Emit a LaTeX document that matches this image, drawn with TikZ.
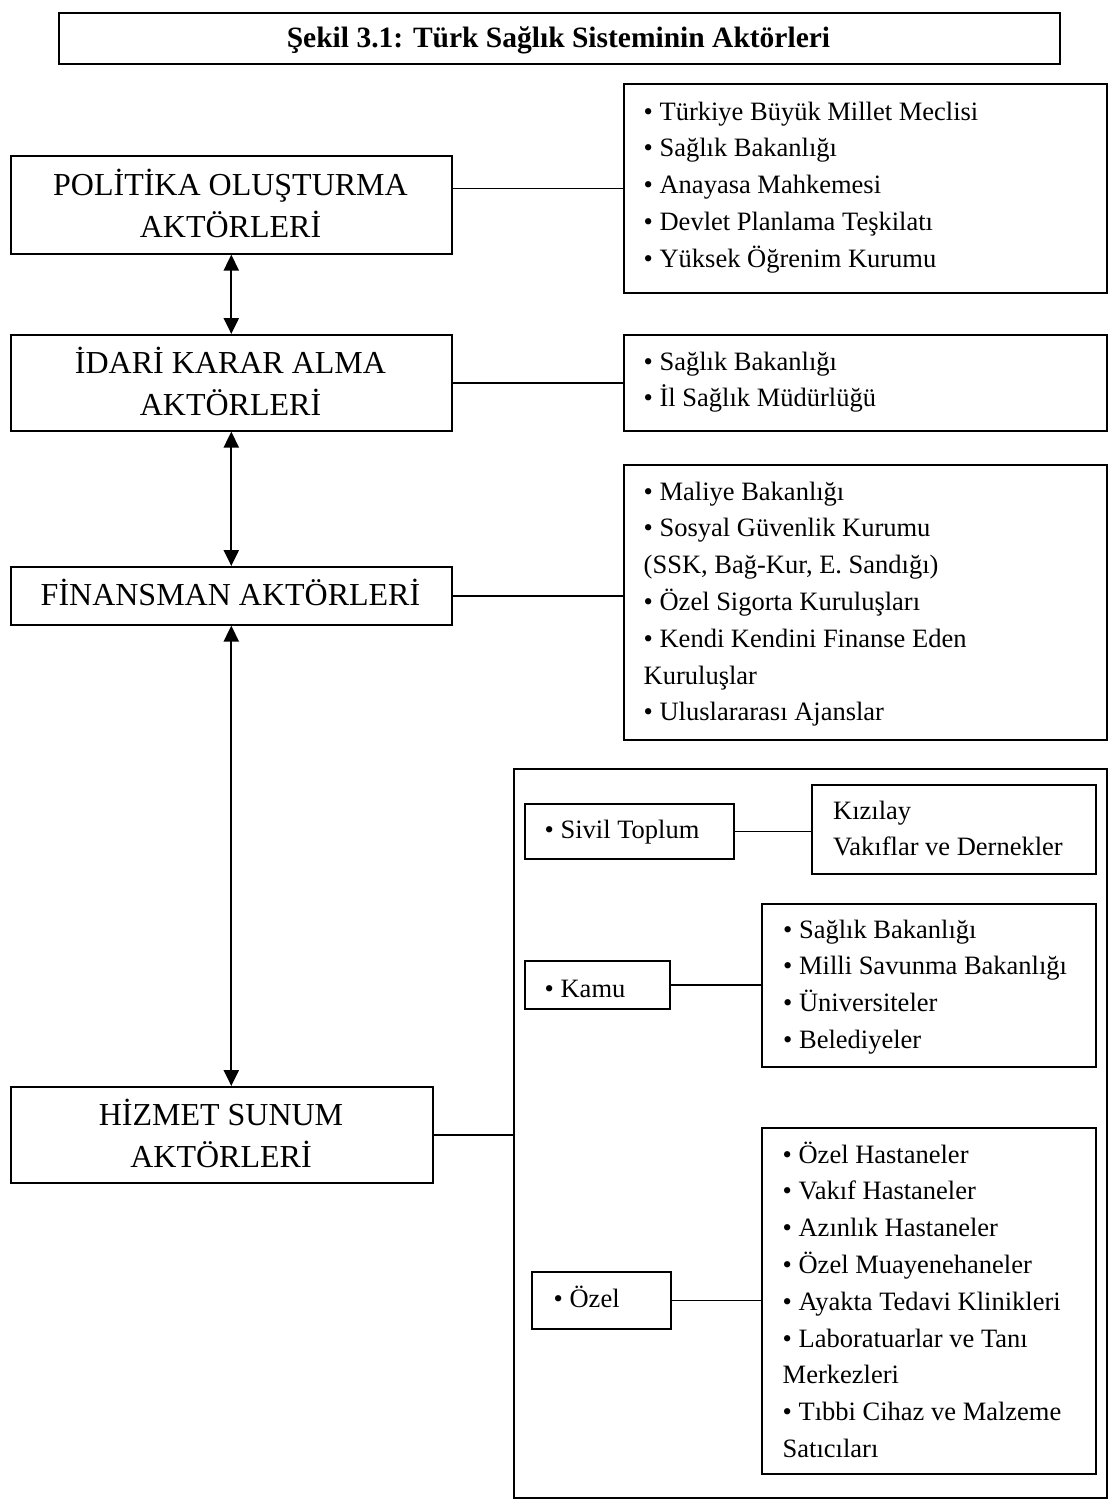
\documentclass[tikz,border=0pt]{standalone}
\usepackage{fontspec}
\setmainfont{Liberation Serif}
\usetikzlibrary{arrows.meta}
\begin{document}
\begin{tikzpicture}[x=1pt,y=-1pt,
  frame/.style={draw, line width=1.6pt, inner sep=0pt, anchor=north west},
  bigtxt/.style={font=\fontsize{32}{42}\selectfont, inner sep=0pt, align=center, anchor=north},
  listtxt/.style={font=\fontsize{26.5}{36.8}\selectfont, inner sep=0pt, align=left, anchor=north west},
  conn/.style={line width=1.6pt},
  dblarrow/.style={line width=2.2pt, {Triangle[width=15pt,length=16pt]}-{Triangle[width=15pt,length=16pt]}}]
\useasboundingbox (0,0) rectangle (1109,1499);

% title
\node[frame, line width=1.8pt, minimum width=1001pt, minimum height=51pt] (tbox) at (58,12) {};
\node[font=\fontsize{29.5}{35}\selectfont\bfseries, inner sep=0pt, anchor=base] (ttl) at (558.5,47) {Şekil 3.1: Türk Sağlık Sisteminin Aktörleri};

% actor levels (left column)
\node[frame, minimum width=441pt, minimum height=98pt] (pol) at (10,155) {};
\node[frame, minimum width=441pt, minimum height=96pt] (ida) at (10,334) {};
\node[frame, minimum width=441pt, minimum height=58pt] (fin) at (10,566) {};
\node[frame, minimum width=422pt, minimum height=96pt] (hiz) at (10,1086) {};

\node[bigtxt] (polt) at (230.5,165.6) {\strut POLİTİKA OLUŞTURMA\\\strut AKTÖRLERİ};
\node[bigtxt] (idat) at (230.5,343.6) {\strut İDARİ KARAR ALMA\\\strut AKTÖRLERİ};
\node[bigtxt] (fint) at (230.5,576.1) {\strut FİNANSMAN AKTÖRLERİ};
\node[bigtxt] (hizt) at (221,1095.6) {\strut HİZMET SUNUM\\\strut AKTÖRLERİ};

% actor lists (right column)
\node[frame, minimum width=483pt, minimum height=209pt] (polr) at (623,83) {};
\node[frame, minimum width=483pt, minimum height=96pt] (idar) at (623,334) {};
\node[frame, minimum width=483pt, minimum height=275pt] (finr) at (623,464) {};

\node[listtxt] (polrt) at (643.5,94.1) {\strut• Türkiye Büyük Millet Meclisi\\\strut• Sağlık Bakanlığı\\\strut• Anayasa Mahkemesi\\\strut• Devlet Planlama Teşkilatı\\\strut• Yüksek Öğrenim Kurumu};
\node[listtxt] (idart) at (643.5,344.1) {\strut• Sağlık Bakanlığı\\\strut• İl Sağlık Müdürlüğü};
\node[listtxt] (finrt) at (643.5,474.1) {\strut• Maliye Bakanlığı\\\strut• Sosyal Güvenlik Kurumu\\\strut(SSK, Bağ-Kur, E. Sandığı)\\\strut• Özel Sigorta Kuruluşları\\\strut• Kendi Kendini Finanse Eden\\\strut Kuruluşlar\\\strut• Uluslararası Ajanslar};

% service providers
\node[frame, line width=2pt, minimum width=593pt, minimum height=729pt] (big) at (513,768) {};

\node[frame, minimum width=209pt, minimum height=55pt] (siv) at (524,803) {};
\node[frame, minimum width=284pt, minimum height=89pt] (kiz) at (811,784) {};
\node[frame, minimum width=145pt, minimum height=48pt] (kam) at (524,960) {};
\node[frame, minimum width=334pt, minimum height=163pt] (kaml) at (761,903) {};
\node[frame, minimum width=139pt, minimum height=57pt] (oz) at (531,1271) {};
\node[frame, minimum width=334pt, minimum height=346pt] (ozl) at (761,1127) {};

\node[listtxt] (sivt) at (544.5,812.1) {\strut• Sivil Toplum};
\node[listtxt] (kizt) at (833,793.1) {\strut Kızılay\\\strut Vakıflar ve Dernekler};
\node[listtxt] (kamt) at (544.5,971.1) {\strut• Kamu};
\node[listtxt] (kamlt) at (783,912.1) {\strut• Sağlık Bakanlığı\\\strut• Milli Savunma Bakanlığı\\\strut• Üniversiteler\\\strut• Belediyeler};
\node[listtxt] (ozt) at (553.5,1281.1) {\strut• Özel};
\node[listtxt] (ozlt) at (782.5,1137.1) {\strut• Özel Hastaneler\\\strut• Vakıf Hastaneler\\\strut• Azınlık Hastaneler\\\strut• Özel Muayenehaneler\\\strut• Ayakta Tedavi Klinikleri\\\strut• Laboratuarlar ve Tanı\\\strut Merkezleri\\\strut• Tıbbi Cihaz ve Malzeme\\\strut Satıcıları};

% connectors
\draw[conn] (polr.west -| pol.east) -- (polr.west);
\draw[conn] (ida.east) -- (ida.east -| idar.west);
\draw[conn] (fin.east) -- (fin.east -| finr.west);
\draw[conn] (hiz.east) -- (hiz.east -| big.west);
\draw[conn] (siv.east) -- (siv.east -| kiz.west);
\draw[conn] (kam.east) -- (kam.east -| kaml.west);
\draw[conn] (oz.east) -- (oz.east -| ozl.west);

% two-way arrows between levels
\draw[dblarrow] (pol.south) -- (ida.north);
\draw[dblarrow] (ida.south) -- (fin.north);
\draw[dblarrow] (fin.south) -- (fin.south |- hiz.north);
\end{tikzpicture}
\end{document}
